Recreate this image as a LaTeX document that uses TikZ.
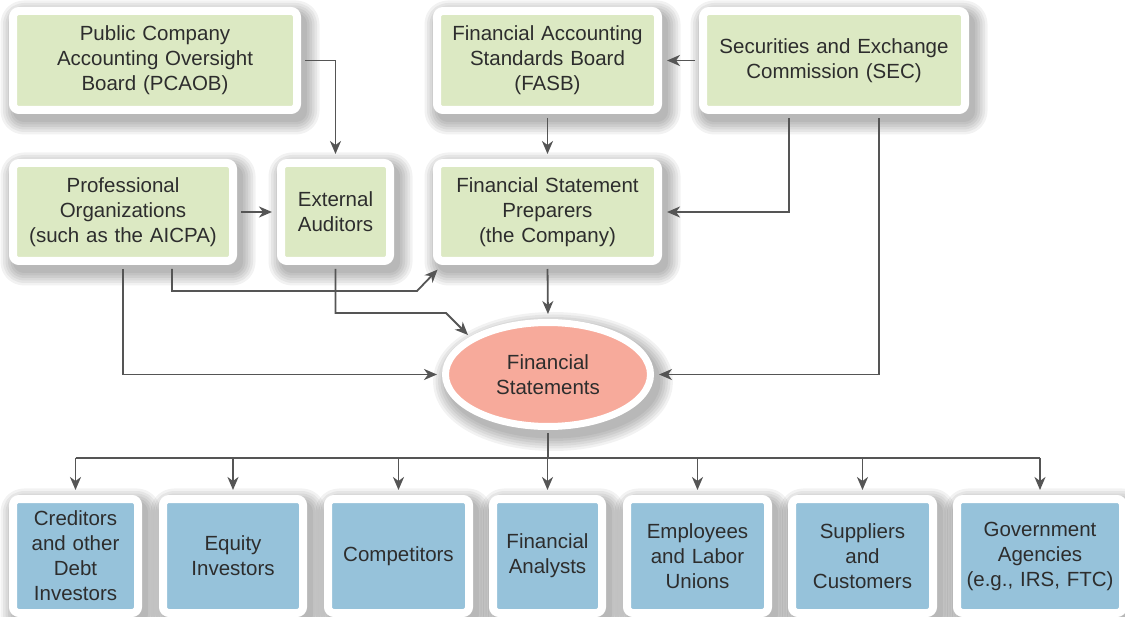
\documentclass[tikz,border=0pt]{standalone}
\usepackage{fontspec}
\setmainfont{Liberation Sans}
\usetikzlibrary{arrows.meta,shapes.geometric,backgrounds,calc}
\definecolor{boxgreen}{RGB}{220,233,195}
\definecolor{boxblue}{RGB}{150,194,218}
\definecolor{fspink}{RGB}{247,170,155}
\definecolor{linegray}{RGB}{85,85,85}
\definecolor{txtgray}{RGB}{45,45,45}
\tikzset{
  shadowring/.style={preaction={draw=black, fill=none, draw opacity=.05,
      line width=#1, line join=round,
      transform canvas={shift={(5pt,-7pt)}}}},
  softshadow/.style={shadowring=10pt, shadowring=15pt, shadowring=20pt,
      shadowring=25pt, shadowring=30pt, shadowring=35pt},
  card/.style={rectangle, rounded corners=6pt, draw=white, line width=8pt,
    inner xsep=4pt, inner ysep=0pt, align=center,
    font=\fontsize{20.5}{25}\selectfont, text=txtgray, softshadow},
  greencard/.style={card, fill=boxgreen},
  bluecard/.style={card, fill=boxblue, minimum height=114pt},
  fsnode/.style={ellipse, fill=fspink, draw=white, line width=7pt,
    minimum width=205pt, minimum height=104pt, inner sep=0pt, align=center,
    font=\fontsize{20.5}{25}\selectfont, text=txtgray, softshadow},
  conn/.style={draw=linegray, line width=1.8pt, shorten <=4pt},
  arr/.style={conn, -{Stealth[length=13pt,width=11pt,inset=4pt]}, shorten >=5pt}
}
\begin{document}
\begin{tikzpicture}[x=1pt,y=-1pt]
\useasboundingbox (0,0) rectangle (1125,617);
% top row
\node[greencard, text width=276pt, minimum height=99pt] (pcaob) at (155,60.5) {Public Company\\Accounting Oversight\\Board (PCAOB)};
\node[greencard, text width=213pt, minimum height=99pt] (fasb) at (547.5,60.5) {Financial Accounting\\Standards Board\\(FASB)};
\node[greencard, text width=254pt, minimum height=99pt] (sec) at (834,60.5) {Securities and Exchange\\Commission (SEC)};
% second row
\node[greencard, text width=212pt, minimum height=98pt] (prof) at (123,212) {Professional\\Organizations\\(such as the AICPA)};
\node[greencard, text width=101pt, minimum height=98pt] (aud) at (335.5,212) {External\\Auditors};
\node[greencard, text width=213pt, minimum height=98pt] (fsp) at (547.5,212) {Financial Statement\\Preparers\\(the Company)};
% financial statements
\node[fsnode] (fs) at (548,374.5) {Financial\\Statements};
% users
\node[bluecard, text width=117pt] (cred) at (75.5,556) {Creditors\\and other\\Debt\\Investors};
\node[bluecard, text width=132pt] (eq) at (233,556) {Equity\\Investors};
\node[bluecard, text width=133pt] (comp) at (398.5,556) {Competitors};
\node[bluecard, text width=101pt] (fa) at (547.5,556) {Financial\\Analysts};
\node[bluecard, text width=133pt] (emp) at (697.5,556) {Employees\\and Labor\\Unions};
\node[bluecard, text width=133pt] (sup) at (862.5,556) {Suppliers\\and\\Customers};
\node[bluecard, text width=158pt] (gov) at (1040,556) {Government\\Agencies\\(e.g., IRS, FTC)};
% connectors
\coordinate (k1) at (172,291);
\coordinate (k2) at (417,291);
\coordinate (k3) at (446,313);
\coordinate (bus) at (548,458);
\begin{scope}[on background layer]
  \fill[white] (0,0) rectangle (1125,617);
\end{scope}
  \draw[arr] (sec.west) -- (fasb.east);
  \draw[arr] (pcaob.east) -| (aud.north);
  \draw[arr] (prof.east) -- (aud.west);
  \draw[arr] (fasb.south) -- (fsp.north);
  \draw[arr] ([xshift=-45pt]sec.south) |- (fsp.east);
  \draw[arr] ([xshift=45pt]sec.south) |- (fs.east);
  \draw[arr] (fsp.south) -- (fs.north);
  \draw[arr] (prof.south) |- (fs.west);
  \draw[arr] (prof.south -| k1) -- (k1) -- (k2) -- ($(fsp.south west)+(8,1)$);
  \draw[arr] (aud.south) -- (aud.south |- k3) -- (k3) -- ($(fs.center)+(-76.5,-36)$);
  \draw[conn, shorten <=3.5pt] (fs.south) -- (fs.south |- bus);
  \draw[conn, shorten <=0pt] (cred.north |- bus) -- (gov.north |- bus);
  \foreach \n in {cred,eq,comp,fa,emp,sup,gov}
    \draw[arr, shorten <=0pt] (\n.north |- bus) -- (\n.north);
\end{tikzpicture}
\end{document}
